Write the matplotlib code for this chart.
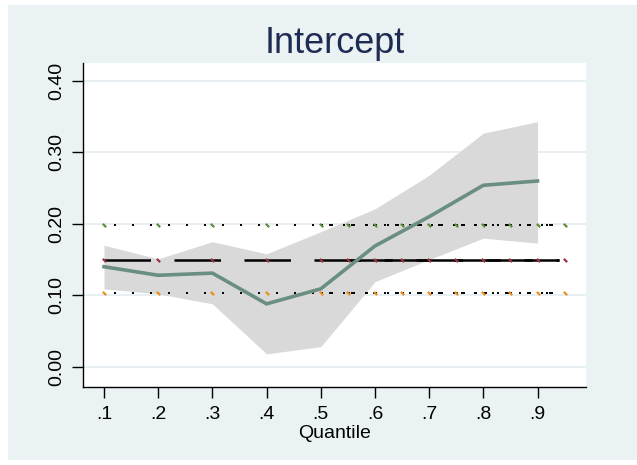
import matplotlib
matplotlib.use("Agg")
import matplotlib.pyplot as plt
from matplotlib.patches import Rectangle
from matplotlib.path import Path
import numpy as np

plt.rcParams['font.family'] = ['Liberation Sans', 'DejaVu Sans']
plt.rcParams['lines.scale_dashes'] = False

# ---- data ----
quantiles = [0.1, 0.2, 0.3, 0.4, 0.5, 0.6, 0.7, 0.8, 0.9]
estimate = [0.140, 0.128, 0.131, 0.088, 0.109, 0.169, 0.210, 0.254, 0.260]
ci_lower = [0.109, 0.102, 0.088, 0.018, 0.028, 0.119, 0.150, 0.180, 0.173]
ci_upper = [0.170, 0.151, 0.175, 0.158, 0.189, 0.221, 0.268, 0.327, 0.343]

ref_x = [0.1, 0.2, 0.3, 0.4, 0.5, 0.55, 0.6, 0.65, 0.7, 0.75, 0.8, 0.85, 0.9, 0.95]
ref_high = 0.198
ref_mid = 0.150
ref_low = 0.103

xticks = [0.1, 0.2, 0.3, 0.4, 0.5, 0.6, 0.7, 0.8, 0.9]
xticklabels = ['.1', '.2', '.3', '.4', '.5', '.6', '.7', '.8', '.9']
yticks = [0.0, 0.1, 0.2, 0.3, 0.4]
yticklabels = ['0.00', '0.10', '0.20', '0.30', '0.40']

# ---- figure ----
W, H = 637, 465
fig = plt.figure(figsize=(W / 100, H / 100), dpi=100, facecolor='white')
bg = Rectangle((8 / W, 5 / H), 1 - 8 / W, 455 / H,
               transform=fig.transFigure, facecolor='#EAF2F3',
               edgecolor='none', zorder=-10)
fig.add_artist(bg)

ax = fig.add_axes([83 / W, (H - 386.7) / H, (586 - 83) / W, (386.7 - 63) / H])
ax.set_zorder(1)
ax.set_facecolor('white')
ax.set_xlim(0.06125, 0.9895)
ax.set_ylim(-0.028, 0.4252)

# grid
for yv in yticks:
    ax.axhline(yv, color='#E6EEF2', lw=1.3, zorder=0.5)

# CI band
ax.fill_between(quantiles, ci_lower, ci_upper, color='#D9D9D9', lw=0, zorder=1)

px = 0.72  # points per pixel
diag = Path([(-1, 1), (1, -1)], [Path.MOVETO, Path.LINETO])

# dotted reference lines (black)
for yv in (ref_high, ref_low):
    ax.plot([ref_x[0], 0.93], [yv, yv], color='black', lw=1.4,
            linestyle=(8 * px, (2 * px, 16 * px)), zorder=2)
    ax.plot([0.5, 0.93], [yv, yv], color='black', lw=1.4,
            linestyle=(0, (2 * px, 6 * px, 4 * px, 10 * px)), zorder=2)

# dashed reference line (black)
ax.plot([ref_x[0], 0.94], [ref_mid, ref_mid], color='black', lw=1.8,
        linestyle=(0, (46.5 * px, 23.5 * px)), zorder=2)
ax.plot([0.5, 0.94], [ref_mid, ref_mid], color='black', lw=1.8,
        linestyle=(45 * px, (46.5 * px, 23.5 * px)), zorder=2)

# markers
mk = dict(linestyle='none', marker=diag, markersize=2.4, markeredgewidth=1.6, zorder=3)
ax.plot(ref_x, [ref_high] * len(ref_x), markeredgecolor='#5E8C3A', **mk)
ax.plot(ref_x, [ref_mid] * len(ref_x), markeredgecolor='#9C3344', **mk)
ax.plot(ref_x, [ref_low] * len(ref_x), markeredgecolor='#EC8F1C', **mk)

# estimate line
ax.plot(quantiles, estimate, color='#6A8F80', lw=2.6, zorder=4,
        solid_joinstyle='miter')

# axes styling
for s in ('top', 'right'):
    ax.spines[s].set_visible(False)
for s in ('left', 'bottom'):
    ax.spines[s].set_linewidth(1.0)
    ax.spines[s].set_color('black')

ax.set_xticks(xticks)
ax.set_xticklabels(xticklabels)
ax.set_yticks(yticks)
ax.set_yticklabels(yticklabels, rotation=90, va='center')
ax.tick_params(axis='both', direction='out', length=8, width=1.0,
               labelsize=14, colors='black')
ax.tick_params(axis='x', pad=6)
ax.tick_params(axis='y', pad=5)

ax.set_xlabel('Quantile', fontsize=14, labelpad=1)
ax.set_title('Intercept', fontsize=26, color='#1E2B52', pad=7)

fig.savefig('out.png', dpi=100, facecolor=fig.get_facecolor())
